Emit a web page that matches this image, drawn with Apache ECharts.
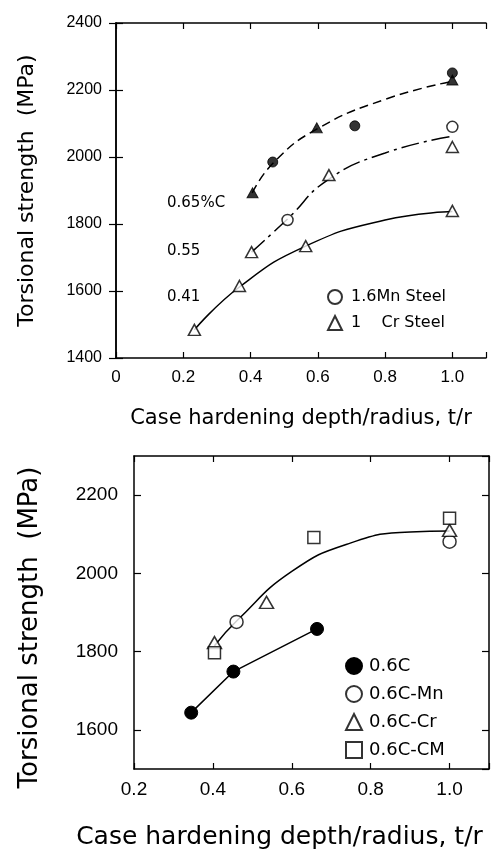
<!DOCTYPE html>
<html>
<head>
<meta charset="utf-8">
<script src="https://cdn.jsdelivr.net/npm/echarts@6/dist/echarts.min.js"></script>
<style>
  html, body { margin: 0; padding: 0; background: #fff; }
  #chart { width: 491px; height: 853px; }
</style>
</head>
<body>
<div id="chart"></div>
<script>
// ---- Upper panel: torsional strength vs t/r for three carbon levels ----
const upperXTicks = [0, 0.2, 0.4, 0.6, 0.8, 1.0];
const upperYTicks = [1400, 1600, 1800, 2000, 2200, 2400];

// fitted trend lines (0.65 %C dashed, 0.55 %C dash-dot, 0.41 %C solid)
const curve065 = [[0.405, 1893], [0.47, 1985], [0.6, 2085], [0.8, 2172], [1.0, 2226]];
const curve055 = [[0.403, 1716], [0.51, 1815], [0.63, 1932], [0.8, 2012], [1.0, 2062]];
const curve041 = [[0.233, 1484], [0.367, 1612], [0.564, 1734], [0.8, 1812], [1.0, 1837]];

// measured points
const mn065 = [[0.466, 1985], [0.71, 2093], [1.0, 2251]];   // 1.6Mn steel, 0.65 %C (filled)
const cr065 = [[0.406, 1893], [0.597, 2087], [1.0, 2230]];  // 1Cr steel, 0.65 %C (filled)
const mn055 = [[0.51, 1812], [1.0, 2090]];                  // 1.6Mn steel, 0.55 %C
const cr055 = [[0.403, 1716], [0.633, 1946], [1.0, 2030]];  // 1Cr steel, 0.55 %C
const cr041 = [[0.233, 1484], [0.367, 1615], [0.564, 1734], [1.0, 1839]]; // 1Cr steel, 0.41 %C

// ---- Lower panel: 0.6 %C steels with alloy additions ----
const lowerXTicks = [0.2, 0.4, 0.6, 0.8, 1.0];
const lowerYTicks = [1600, 1800, 2000, 2200];

const c06 = [[0.345, 1644], [0.452, 1749], [0.664, 1858]];
const alloyCurve = [[0.404, 1815], [0.462, 1880], [0.6, 2005], [0.75, 2078], [0.9, 2106], [1.0, 2108]];
const c06Mn = [[0.46, 1876], [1.0, 2081]];
const c06Cr = [[0.404, 1823], [0.536, 1926], [1.0, 2110]];
const c06CM = [[0.404, 1797], [0.656, 2092], [1.0, 2141]];

const BLACK = '#000';
const numFont = 'Liberation Sans';
const txtFont = 'DejaVu Sans';

function xLabel(v) {
  if (v > 1.05) return '';
  if (Math.abs(v) < 1e-9) return '0';
  return v.toFixed(1);
}
function yLabel(v) { return String(Math.round(v)); }

function bottomX(gridIndex, min, fontSize, name, nameSize, nameGap, pad) {
  return {
    type: 'value', gridIndex, position: 'bottom', min, max: 1.1, interval: 0.2,
    axisLine: { show: true, lineStyle: { color: BLACK, width: 1.5 } },
    axisTick: { show: true, inside: true, length: 6, lineStyle: { color: BLACK, width: 1.2 } },
    splitLine: { show: false },
    axisLabel: { color: BLACK, fontFamily: numFont, fontSize, margin: 11, formatter: xLabel },
    name, nameLocation: 'middle', nameGap,
    nameTextStyle: { color: BLACK, fontFamily: txtFont, fontSize: nameSize, padding: pad }
  };
}
function topX(gridIndex, min) {
  return {
    type: 'value', gridIndex, position: 'top', min, max: 1.1, interval: 0.2,
    axisLine: { show: true, lineStyle: { color: BLACK, width: 1.5 } },
    axisTick: { show: true, inside: true, length: 6, lineStyle: { color: BLACK, width: 1.2 } },
    axisLabel: { show: false }, splitLine: { show: false }
  };
}
function leftY(gridIndex, min, max, extra, fontSize, nameSize, nameGap, pad, margin) {
  return Object.assign({
    type: 'value', gridIndex, position: 'left', min, max,
    axisLine: { show: true, lineStyle: { color: BLACK, width: 1.5 } },
    axisTick: { show: true, inside: true, length: 7, lineStyle: { color: BLACK, width: 1.2 } },
    splitLine: { show: false },
    axisLabel: { color: BLACK, fontFamily: numFont, fontSize, margin, formatter: yLabel,
                 showMinLabel: gridIndex === 0, showMaxLabel: gridIndex === 0 },
    name: 'Torsional strength  (MPa)', nameLocation: 'middle', nameGap,
    nameTextStyle: { color: BLACK, fontFamily: txtFont, fontSize: nameSize, padding: pad }
  }, extra);
}
function rightY(gridIndex, min, max, extra) {
  return Object.assign({
    type: 'value', gridIndex, position: 'right', min, max,
    axisLine: { show: true, lineStyle: { color: BLACK, width: 1.5 } },
    axisTick: { show: true, inside: true, length: 7, lineStyle: { color: BLACK, width: 1.2 } },
    axisLabel: { show: false }, splitLine: { show: false }
  }, extra);
}

const openStyle = { color: '#fff', borderColor: BLACK, borderWidth: 1.5 };
const fillStyle = { color: BLACK, borderColor: BLACK, borderWidth: 1 };

function curve(name, data, type, x, y) {
  return {
    name, type: 'line', xAxisIndex: x, yAxisIndex: y, data, smooth: 0.5,
    showSymbol: false, silent: true, z: 2,
    lineStyle: { color: BLACK, width: 1.5, type }
  };
}
function pts(name, data, symbol, size, style, x, y, z) {
  return {
    name, type: 'scatter', xAxisIndex: x, yAxisIndex: y, data, symbol, symbolSize: size,
    itemStyle: style, z: z || 3
  };
}

const option = {
  animation: false,
  backgroundColor: '#fff',
  grid: [
    { left: 116, top: 23, width: 370, height: 335, show: false, containLabel: false, outerBoundsMode: 'none' },
    { left: 134, top: 456, width: 355, height: 313, show: false, containLabel: false, outerBoundsMode: 'none' }
  ],
  xAxis: [
    bottomX(0, 0, 17, 'Case hardening depth/radius, t/r', 21, 50, [0, 0, 0, 0]),
    topX(0, 0),
    bottomX(1, 0.2, 19, 'Case hardening depth/radius, t/r', 25, 56, [0, 64, 0, 0]),
    topX(1, 0.2)
  ],
  yAxis: [
    leftY(0, 1400, 2400, { interval: 200 }, 16, 22, 78, [0, 0, 0, 0], 14),
    rightY(0, 1400, 2400, { interval: 200 }),
    leftY(1, 1500, 2300, { splitNumber: 4 }, 19, 26, 91, [0, 30, 0, 0], 16),
    rightY(1, 1500, 2300, { splitNumber: 4 })
  ],
  legend: [
    {
      data: ['1.6Mn Steel', '1 Cr Steel'], orient: 'vertical', left: 322, top: 284,
      itemWidth: 14, itemHeight: 14, itemGap: 10, selectedMode: false,
      textStyle: { color: BLACK, fontFamily: txtFont, fontSize: 16, padding: [0, 0, 0, 4] },
      formatter: n => (n === '1 Cr Steel' ? '1    Cr Steel' : n)
    },
    {
      data: [{ name: '0.6C', icon: 'circle' }, '0.6C-Mn', '0.6C-Cr', '0.6C-CM'],
      orient: 'vertical', left: 340, top: 652,
      itemWidth: 16, itemHeight: 16, itemGap: 10, selectedMode: false,
      textStyle: { color: BLACK, fontFamily: txtFont, fontSize: 18, padding: [0, 0, 0, 2] }
    }
  ],
  graphic: [
    { type: 'text', left: 167, top: 196, style: { text: '0.65%C', font: '15px "DejaVu Sans"', fill: BLACK } },
    { type: 'text', left: 167, top: 244, style: { text: '0.55', font: '15px "DejaVu Sans"', fill: BLACK } },
    { type: 'text', left: 167, top: 290, style: { text: '0.41', font: '15px "DejaVu Sans"', fill: BLACK } }
  ],
  series: [
    curve('0.65%C', curve065, [9, 5], 0, 0),
    curve('0.55', curve055, [18, 5, 3, 5], 0, 0),
    curve('0.41', curve041, 'solid', 0, 0),
    pts('1 Cr Steel', cr055.concat(cr041), 'triangle', [12, 11], openStyle, 0, 0),
    pts('1.6Mn Steel', mn055, 'circle', 11, openStyle, 0, 0),
    pts('1Cr 0.65%C', cr065, 'triangle', [11, 10], fillStyle, 0, 0),
    pts('1.6Mn 0.65%C', mn065, 'circle', 10, fillStyle, 0, 0, 4),

    curve('alloyed', alloyCurve, 'solid', 2, 2),
    {
      name: '0.6C', type: 'line', xAxisIndex: 2, yAxisIndex: 2, data: c06,
      symbol: 'circle', symbolSize: 13, showSymbol: true,
      lineStyle: { color: BLACK, width: 1.5 }, itemStyle: fillStyle, z: 3
    },
    pts('0.6C-Mn', c06Mn, 'circle', 13, openStyle, 2, 2),
    pts('0.6C-Cr', c06Cr, 'triangle', [14, 12], openStyle, 2, 2),
    pts('0.6C-CM', c06CM, 'rect', 12, openStyle, 2, 2)
  ]
};

const chart = echarts.init(document.getElementById('chart'), null, { renderer: 'canvas' });
chart.setOption(option);
</script>
</body>
</html>
